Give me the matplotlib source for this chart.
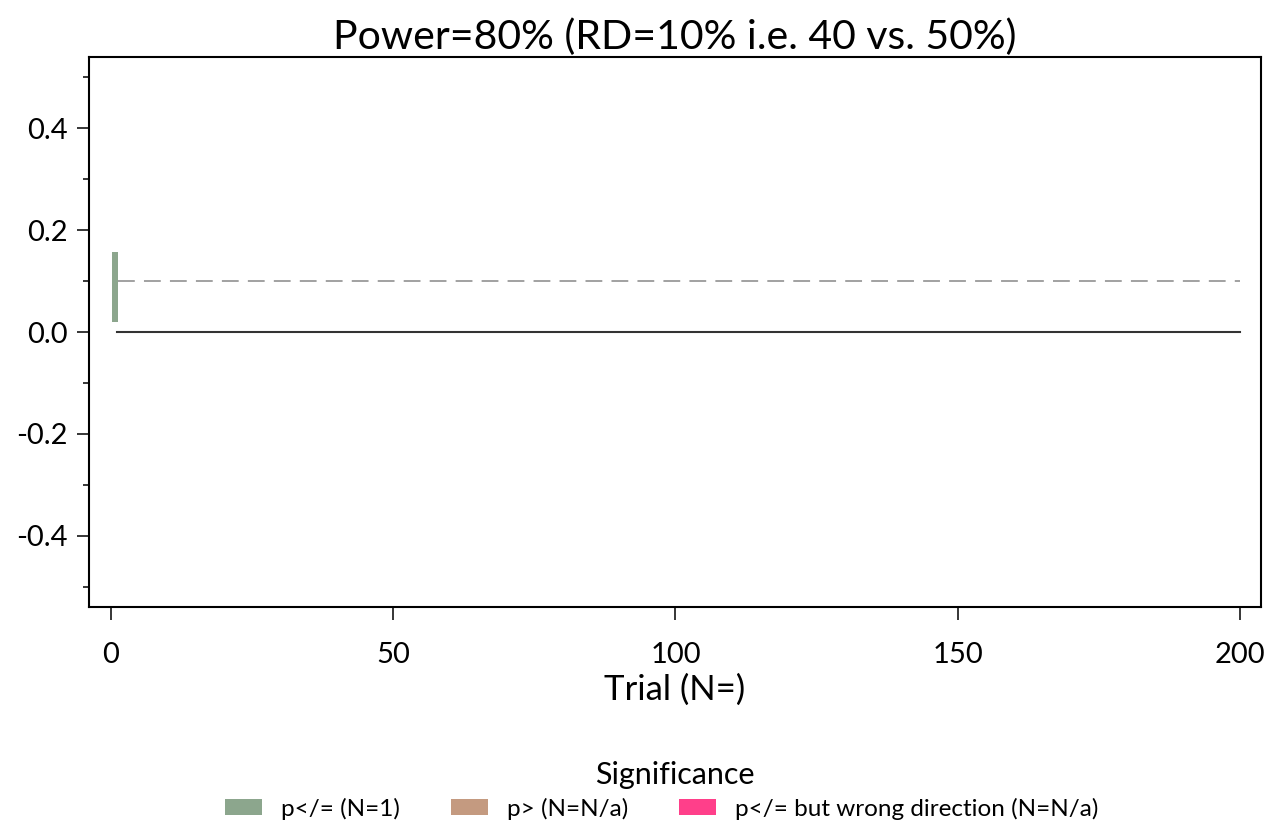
import matplotlib
matplotlib.use("Agg")
import matplotlib.pyplot as plt
from matplotlib.patches import Patch
from matplotlib.ticker import MultipleLocator

plt.rcParams['font.family'] = ['Lato', 'DejaVu Sans']

# data
trial_n = [1]
ci_low = [0.02]
ci_high = [0.157]
true_rd = 0.1
x_end = 200

sig_labels = ['p</= (N=1)', 'p> (N=N/a)', 'p</= but wrong direction (N=N/a)']
sig_colors = ['#8ca68d', '#c49a80', '#ff3f8a']

fig = plt.figure(figsize=(12.78, 8.26), dpi=100)
ax = fig.add_axes([0.0696, 0.265, 0.917, 0.666])

# CI bars
for n, lo, hi in zip(trial_n, ci_low, ci_high):
    ax.bar(n - 0.25, hi - lo, bottom=lo, width=1.0, color=sig_colors[0], edgecolor='none')

ax.plot([trial_n[0] + 0.3, x_end], [true_rd, true_rd], color='#888888', lw=1.1, dashes=(11, 6))
ax.plot([trial_n[0], x_end], [0, 0], color='#333333', lw=1.5)

ax.set_xlim(-3.9, 203.7)
ax.set_ylim(-0.54, 0.54)
ax.set_xticks([0, 50, 100, 150, 200])
ax.yaxis.set_major_locator(MultipleLocator(0.2))
ax.yaxis.set_minor_locator(MultipleLocator(0.1))
ax.yaxis.set_major_formatter(matplotlib.ticker.FormatStrFormatter('%.1f'))
ax.tick_params(axis='both', which='major', length=9, width=1.1, labelsize=21, direction='out')
ax.tick_params(axis='y', which='minor', length=4.5, width=1.1)
ax.tick_params(axis='x', pad=16)
ax.tick_params(axis='y', pad=6)
for s in ax.spines.values():
    s.set_linewidth(1.5)

ax.set_title('Power=80% (RD=10% i.e. 40 vs. 50%)', fontsize=29.5, pad=6)
ax.set_xlabel('Trial (N=)', fontsize=25, labelpad=4)

handles = [Patch(facecolor=c, edgecolor='none') for c in sig_colors]
fig.text(0.528, 0.062, 'Significance', fontsize=22, ha='center', va='center')
fig.legend(handles, sig_labels, ncol=3, loc='center', bbox_to_anchor=(0.518, 0.021),
           frameon=False, fontsize=17.5, handlelength=1.5, handleheight=0.6,
           columnspacing=2.1, handletextpad=0.8)

fig.savefig('out.png', dpi=100)
